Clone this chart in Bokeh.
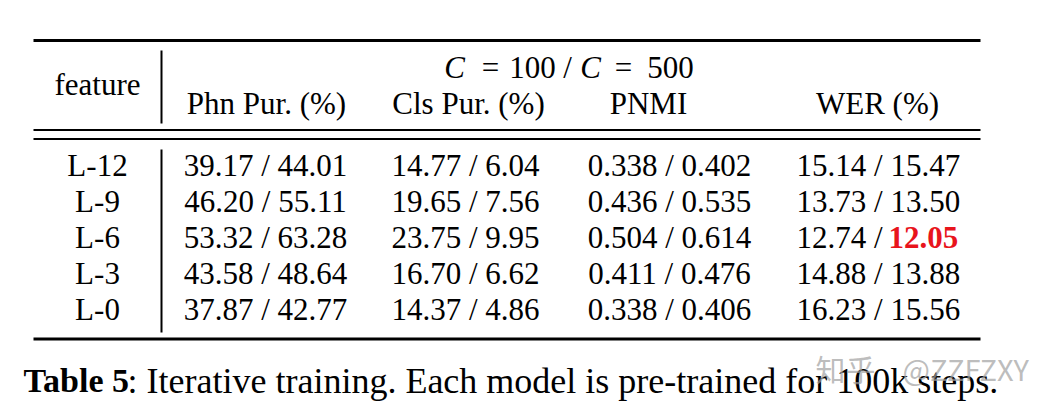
from bokeh.plotting import figure
from bokeh.models import Range1d
from bokeh.core.properties import value
from bokeh.embed import file_html
from bokeh.resources import INLINE

# ---- data ----
features = ["L-12", "L-9", "L-6", "L-3", "L-0"]
phn_100 = [39.17, 46.20, 53.32, 43.58, 37.87]
phn_500 = [44.01, 55.11, 63.28, 48.64, 42.77]
cls_100 = [14.77, 19.65, 23.75, 16.70, 14.37]
cls_500 = [6.04, 7.56, 9.95, 6.62, 4.86]
pnmi_100 = [0.338, 0.436, 0.504, 0.411, 0.338]
pnmi_500 = [0.402, 0.535, 0.614, 0.476, 0.406]
wer_100 = [15.14, 13.73, 12.74, 14.88, 16.23]
wer_500 = [15.47, 13.50, 12.05, 13.88, 15.56]
col_headers = ["Phn Pur. (%)", "Cls Pur. (%)", "PNMI", "WER (%)"]
caption_bold = "Table 5"
caption_rest = ": Iterative training. Each model is pre-trained for 100k steps."
watermark_cjk = "知乎"
watermark_id = "@ZZFZXY"

SERIF = value("'Liberation Serif'")
FS = "31px"

W, H = 1042, 401
p = figure(width=W, height=H, x_range=Range1d(0, W), y_range=Range1d(H, 0),
           output_backend="svg", toolbar_location=None, min_border=0,
           x_axis_location=None, y_axis_location=None)
p.outline_line_color = None
p.xgrid.visible = False
p.ygrid.visible = False
p.background_fill_color = "white"
p.border_fill_color = "white"

# ---- rules ----
p.segment(x0=[33], y0=[40], x1=[980], y1=[40], line_color="black", line_width=3)
p.segment(x0=[33, 33], y0=[129.5, 138.5], x1=[980, 980], y1=[129.5, 138.5],
          line_color="black", line_width=2)
p.segment(x0=[33], y0=[338.5], x1=[980], y1=[338.5], line_color="black", line_width=3)
p.segment(x0=[161, 161], y0=[50, 149], x1=[161, 161], y1=[123, 332],
          line_color="black", line_width=2)

# ---- header ----
p.text(x=[97], y=[84], text=["feature"], text_font=SERIF, text_font_size=FS,
       text_align="center", text_baseline="middle", text_color="black")
hdr_x = [266, 468, 648, 877]
p.text(x=hdr_x, y=[103] * 4, text=col_headers, text_font=SERIF, text_font_size=FS,
       text_align="center", text_baseline="middle", text_color="black")
# C = 100 / C = 500 (math italic C)
p.text(x=[454, 590], y=[67, 67], text=["C", "C"], text_font=SERIF, text_font_size=FS,
       text_font_style="italic", text_align="center", text_baseline="middle", text_color="black")
p.text(x=[490, 532, 567, 623, 670], y=[67] * 5, text=["=", "100", "/", "=", "500"],
       text_font=SERIF, text_font_size=FS, text_align="center", text_baseline="middle",
       text_color="black")

# ---- body ----
row_y = [165, 201, 237, 273, 309]
p.text(x=[97] * 5, y=row_y, text=features, text_font=SERIF, text_font_size=FS,
       text_align="center", text_baseline="middle", text_color="black")

phn_txt = [f"{a:.2f} / {b:.2f}" for a, b in zip(phn_100, phn_500)]
cls_txt = [f"{a:.2f} / {b:.2f}" for a, b in zip(cls_100, cls_500)]
pnmi_txt = [f"{a:.3f} / {b:.3f}" for a, b in zip(pnmi_100, pnmi_500)]
for cx, txt in [(265, phn_txt), (465, cls_txt), (669, pnmi_txt)]:
    p.text(x=[cx] * 5, y=row_y, text=txt, text_font=SERIF, text_font_size=FS,
           text_align="center", text_baseline="middle", text_color="black")

best = wer_500.index(min(wer_500))
wer_left = [f"{a:.2f} /" for a in wer_100]
p.text(x=[882] * 5, y=row_y, text=wer_left, text_font=SERIF, text_font_size=FS,
       text_align="right", text_baseline="middle", text_color="black")
norm_idx = [i for i in range(5) if i != best]
p.text(x=[890] * len(norm_idx), y=[row_y[i] for i in norm_idx],
       text=[f"{wer_500[i]:.2f}" for i in norm_idx], text_font=SERIF, text_font_size=FS,
       text_align="left", text_baseline="middle", text_color="black")
p.text(x=[888], y=[row_y[best]], text=[f"{wer_500[best]:.2f}"], text_font=SERIF,
       text_font_size=FS, text_font_style="bold", text_align="left",
       text_baseline="middle", text_color="#e8141c")

# ---- caption ----
p.text(x=[23], y=[380], text=[caption_bold], text_font=SERIF, text_font_size="34px",
       text_font_style="bold", text_align="left", text_baseline="middle", text_color="black")
p.text(x=[127], y=[380], text=[caption_rest], text_font=SERIF, text_font_size="36px",
       text_align="left", text_baseline="middle", text_color="black")

# ---- watermark ----
p.text(x=[815], y=[367], text=[watermark_cjk], text_font=value("'Noto Sans CJK SC'"),
       text_font_size="30px", text_align="left", text_baseline="middle",
       text_color="#a0a0a0", text_alpha=0.7)
p.text(x=[902], y=[367], text=[watermark_id], text_font=value("'Noto Sans CJK SC'"),
       text_font_size="29px", text_align="left", text_baseline="middle",
       text_color="#a0a0a0", text_alpha=0.7)

open("out.html", "w").write(file_html(p, INLINE))
